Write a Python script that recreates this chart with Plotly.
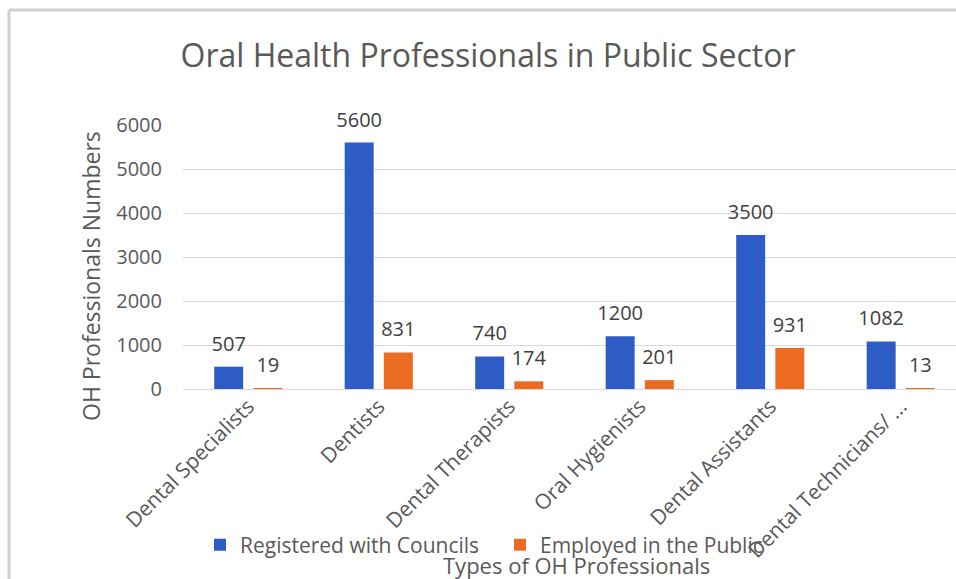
import plotly.graph_objects as go

categories = ["Dental Specialists", "Dentists", "Dental Therapists",
              "Oral Hygienists", "Dental Assistants", "Dental Technicians/ ..."]
registered = [507, 5600, 740, 1200, 3500, 1082]
employed = [19, 831, 174, 201, 931, 13]
series_names = ["Registered with Councils", "Employed in the Public"]
y_ticks = [0, 1000, 2000, 3000, 4000, 5000, 6000]

BLUE = "#2E5CC6"
ORANGE = "#EC6B22"
FONT = "Open Sans, Noto Sans, sans-serif"

fig = go.Figure()
for name, vals, col, grp in [(series_names[0], registered, BLUE, "a"),
                             (series_names[1], employed, ORANGE, "b")]:
    fig.add_trace(go.Bar(x=categories, y=vals, name=name, marker_color=col,
                         offsetgroup=grp, marker_line_width=0))
for vals, grp in [(registered, "a"), (employed, "b")]:
    fig.add_trace(go.Scatter(x=categories, y=vals, mode="markers+text",
                             text=[str(v) for v in vals], textposition="top center",
                             textfont=dict(size=20, color="#404040", family=FONT),
                             marker=dict(size=16, opacity=0), offsetgroup=grp,
                             showlegend=False, hoverinfo="skip", cliponaxis=False))

W, H = 956, 579
L, R, T, B = 183, 0, 125, 190
pw, ph = W - L - R, H - T - B

def px_x(p):
    return (p - L) / pw

def px_y(p):
    return (H - B - p) / ph

fig.update_layout(
    width=W, height=H,
    margin=dict(l=L, r=R, t=T, b=B),
    paper_bgcolor="white", plot_bgcolor="white",
    barmode="group", bargap=0.4, bargroupgap=0.26,
    scattermode="group", scattergap=0.4,
    font=dict(family=FONT, color="#595959"),
    title=dict(text="Oral Health Professionals in Public Sector",
               x=488 / W, xanchor="center", y=1 - 56 / H, yanchor="middle",
               font=dict(size=32, color="#595959", family=FONT)),
    xaxis=dict(range=[-0.5, -0.5 + pw / 130.5], tickangle=-45,
               tickfont=dict(size=21, color="#595959"), showgrid=False,
               showline=False, ticks="", fixedrange=True),
    yaxis=dict(range=[0, 6000], tickvals=y_ticks, showgrid=True,
               gridcolor="#D9D9D9", gridwidth=1, zeroline=True,
               zerolinecolor="#D9D9D9", zerolinewidth=1, ticklabelstandoff=20,
               tickfont=dict(size=20, color="#595959"), ticks="", showline=False),
    legend=dict(orientation="h", x=px_x(200), xanchor="left", y=px_y(545),
                yanchor="middle", font=dict(size=21, color="#595959"),
                entrywidth=255, entrywidthmode="pixels",
                bgcolor="rgba(0,0,0,0)"),
    annotations=[
        dict(text="OH Professionals Numbers", textangle=-90, showarrow=False,
             xref="paper", yref="paper", x=px_x(91), y=px_y(276),
             xanchor="center", yanchor="middle",
             font=dict(size=23, color="#595959", family=FONT)),
        dict(text="Types of OH Professionals", showarrow=False,
             xref="paper", yref="paper", x=px_x(576), y=px_y(565),
             xanchor="center", yanchor="middle",
             font=dict(size=22, color="#595959", family=FONT)),
    ],
    shapes=[
        dict(type="line", xref="paper", yref="paper", x0=px_x(9), x1=px_x(W),
             y0=px_y(10), y1=px_y(10), line=dict(color="#CFCFCF", width=3)),
        dict(type="line", xref="paper", yref="paper", x0=px_x(9), x1=px_x(9),
             y0=px_y(10), y1=px_y(H), line=dict(color="#CFCFCF", width=3)),
    ],
)

fig.write_html("out.html")
